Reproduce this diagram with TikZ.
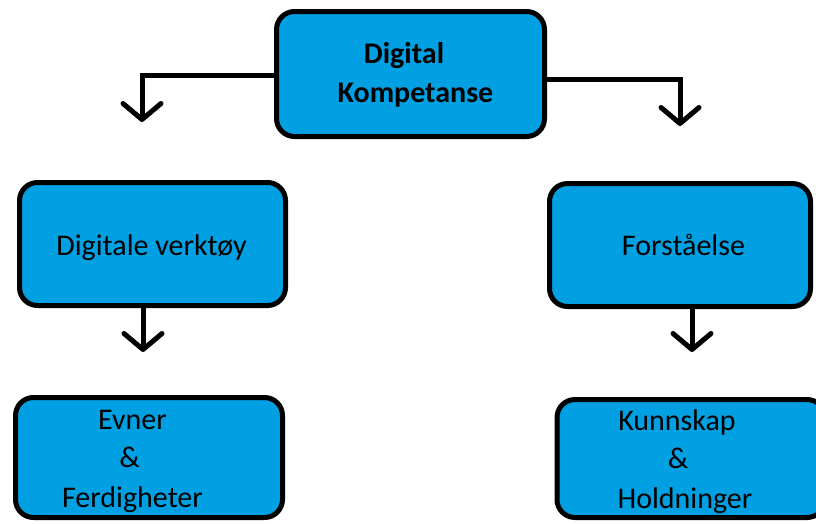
\documentclass[tikz,border=0pt]{standalone}
\usepackage{fontspec}
\setmainfont{Carlito}
\usetikzlibrary{arrows.meta}
\definecolor{boxblue}{RGB}{0,160,227}
\tikzset{
  box/.style={draw=black, line width=5pt, fill=boxblue, rounded corners=18pt, inner sep=0pt},
  lbl/.style={anchor=base, inner sep=0pt, font=\fontsize{30}{36}\selectfont},
  lblb/.style={lbl, font=\fontsize{30}{36}\selectfont\bfseries},
  conn/.style={line width=5pt, -{Straight Barb[length=16pt,width=38pt,round]}}
}
\begin{document}
\begin{tikzpicture}[x=1pt,y=-1pt]
\useasboundingbox (0,0) rectangle (816,523);
\clip (0,0) rectangle (816,523);
% boxes
\node[box, minimum width=268pt, minimum height=125pt] (top) at (410.5,74) {};
\node[box, minimum width=266pt, minimum height=123pt] (ml) at (152.5,244) {};
\node[box, minimum width=261pt, minimum height=123pt] (mr) at (680,245) {};
\node[box, minimum width=267pt, minimum height=120pt] (bl) at (149,457.5) {};
\node[box, minimum width=268pt, minimum height=118pt] (br) at (691,458.5) {};
% labels
\node[lblb] (t1) at (404,63) {Digital};
\node[lblb] (t2) at (415.5,102) {Kompetanse};
\node[lbl] (ml1) at (151.5,255) {Digitale verktøy};
\node[lbl] (mr1) at (683.5,255) {Forståelse};
\node[lbl] (bl1) at (132.5,429) {Evner};
\node[lbl] (bl2) at (129.5,467) {\&};
\node[lbl] (bl3) at (132.5,507) {Ferdigheter};
\node[lbl] (br1) at (677,430) {Kunnskap};
\node[lbl] (br2) at (678,468) {\&};
\node[lbl] (br3) at (685,508) {Holdninger};
% connector end points
\coordinate (a1) at (142,122);
\coordinate (a2) at (680,126);
\coordinate (a3) at (143,352);
\coordinate (a4) at (692,352);
% connectors
\draw[conn, line join=miter] (top.west |- 0,75) -| (a1);
\draw[conn, line join=miter] (top.east |- 0,79) -| (a2);
\draw[conn] (ml.south -| a3) -- (a3);
\draw[conn] (mr.south -| a4) -- (a4);
\end{tikzpicture}
\end{document}
